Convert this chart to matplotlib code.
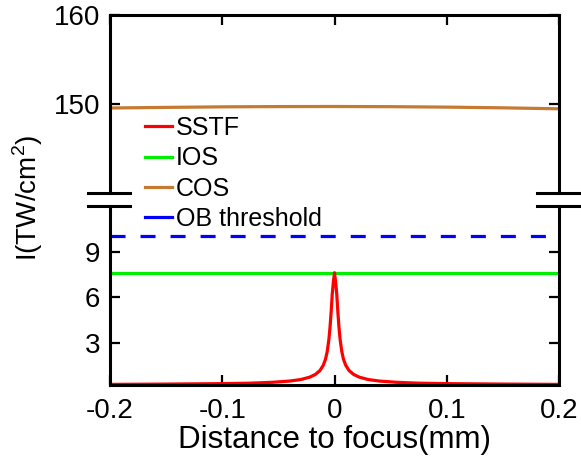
import numpy as np
import matplotlib
matplotlib.use('Agg')
import matplotlib.pyplot as plt
from matplotlib.lines import Line2D

plt.rcParams['font.family'] = ['Liberation Sans', 'DejaVu Sans']
plt.rcParams['mathtext.fontset'] = 'custom'
plt.rcParams['mathtext.rm'] = 'Liberation Sans'

# data
sstf_x = [-0.2, -0.15, -0.1, -0.075, -0.055, -0.04, -0.03, -0.022, -0.017, -0.013,
          -0.01, -0.008, -0.0065, -0.005, -0.004, -0.003, -0.002, -0.001, 0.0,
          0.001, 0.002, 0.003, 0.004, 0.005, 0.0065, 0.008, 0.01, 0.013, 0.017,
          0.022, 0.03, 0.04, 0.055, 0.075, 0.1, 0.15, 0.2]
sstf_y = [0.24, 0.26, 0.29, 0.32, 0.38, 0.46, 0.56, 0.72, 0.9, 1.15,
          1.5, 1.9, 2.4, 3.2, 4.0, 5.0, 6.2, 7.0, 7.6,
          7.0, 6.2, 5.0, 4.0, 3.2, 2.4, 1.9, 1.5, 1.15, 0.9,
          0.72, 0.56, 0.46, 0.38, 0.32, 0.29, 0.26, 0.24]
ios_x = [-0.2, 0.2]
ios_y = [7.6, 7.6]
cos_x = [-0.2, -0.15, -0.1, -0.05, 0.0, 0.05, 0.1, 0.15, 0.2]
cos_y = [149.55, 149.62, 149.68, 149.71, 149.72, 149.7, 149.65, 149.57, 149.46]
ob_x = [-0.2, 0.2]
ob_y = [10.0, 10.0]

xticks = [-0.2, -0.1, 0, 0.1, 0.2]
xtick_labels = ['-0.2', '-0.1', '0', '0.1', '0.2']
top_yticks = [150, 160]
bot_yticks = [3, 6, 9]

red = '#FF0000'
green = '#00EE00'
brown = '#C47A32'
blue = '#0000FF'

W, H = 581, 467
fig = plt.figure(figsize=(W / 100, H / 100), dpi=100)

x0, x1 = 110, 559
ax_top = fig.add_axes([x0 / W, 1 - 193 / H, (x1 - x0) / W, (193 - 15) / H])
ax_bot = fig.add_axes([x0 / W, 1 - 385 / H, (x1 - x0) / W, (385 - 206) / H])

lw = 2.3
ax_top.plot(cos_x, cos_y, color=brown, lw=lw)
ax_bot.plot(ios_x, ios_y, color=green, lw=lw)
ax_bot.plot(ob_x, ob_y, color=blue, lw=lw, linestyle=(0, (4.7, 4.7)))
ax_bot.plot(sstf_x, sstf_y, color=red, lw=lw)

for ax in (ax_top, ax_bot):
    ax.set_xlim(-0.2, 0.2)
    ax.set_xticks(xticks)
    for s in ax.spines.values():
        s.set_linewidth(2.2)
    ax.tick_params(direction='in', length=7, width=1.6, labelsize=20, pad=7,
                   left=True, right=True)

ax_top.set_ylim(140, 160)
ax_top.set_yticks(top_yticks)
ax_top.spines['bottom'].set_visible(False)
ax_top.tick_params(axis='x', bottom=False, top=True, labelbottom=False)

ax_bot.set_ylim(0.2, 12)
ax_bot.set_yticks(bot_yticks)
ax_bot.spines['top'].set_visible(False)
ax_bot.set_xticklabels(xtick_labels)
ax_bot.tick_params(axis='x', top=False, bottom=True, pad=9)
ax_bot.set_xlabel('Distance to focus(mm)', fontsize=22.5, labelpad=1)

# axis break marks
for ya in (193, 206):
    for (xa, xb) in ((88, 130), (537, 581)):
        fig.add_artist(Line2D([xa / W, xb / W], [1 - ya / H, 1 - ya / H],
                              color='black', lw=2.2, transform=fig.transFigure))

fig.text(28 / W, 1 - 198 / H, 'I(TW/cm$^2$)', rotation=90, fontsize=20,
         ha='center', va='center')

handles = [Line2D([], [], color=red, lw=lw), Line2D([], [], color=green, lw=lw),
           Line2D([], [], color=brown, lw=lw), Line2D([], [], color=blue, lw=lw)]
fig.legend(handles, ['SSTF', 'IOS', 'COS', 'OB threshold'], loc='upper left',
           bbox_to_anchor=(145 / W, 1 - 116 / H), bbox_transform=fig.transFigure,
           frameon=False, fontsize=18, borderaxespad=0, borderpad=0,
           handlelength=1.08, handletextpad=0.16, labelspacing=0.25)

fig.savefig('out.png', dpi=100)
